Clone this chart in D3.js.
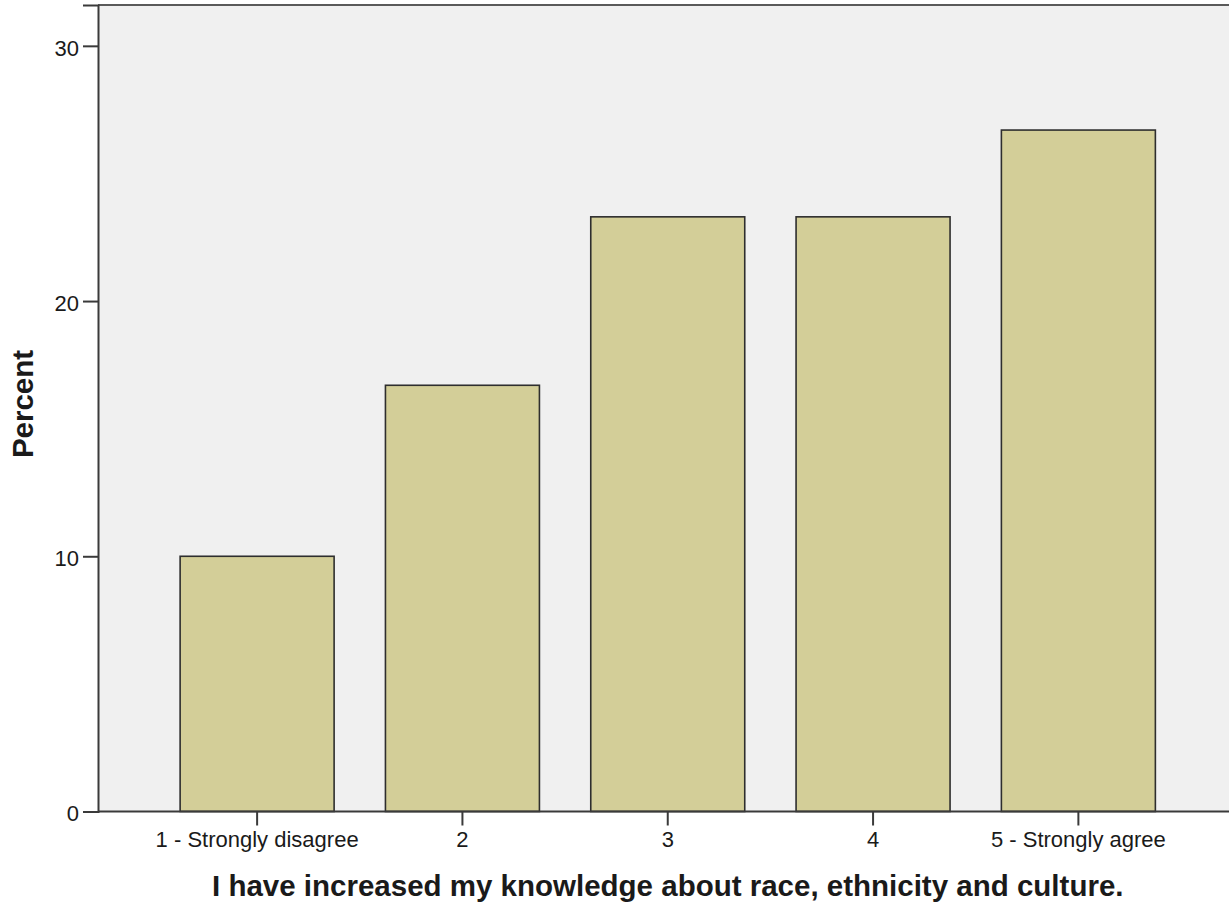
<!DOCTYPE html>
<html>
<head>
<meta charset="utf-8">
<script src="https://cdn.jsdelivr.net/npm/d3@7"></script>
<style>
  html, body { margin: 0; padding: 0; background: #ffffff; }
  svg { display: block; }
  text { font-family: "Liberation Sans", Arial, sans-serif; fill: #1a1a1a; }
</style>
</head>
<body>
<svg id="chart" width="1229" height="903"></svg>
<script>
// Response categories and the percentage answering each one
const categories = ["1 - Strongly disagree", "2", "3", "4", "5 - Strongly agree"];
const percents = [10.0, 16.7, 23.3, 23.3, 26.7];
const yTicks = [0, 10, 20, 30];
const xTitle = "I have increased my knowledge about race, ethnicity and culture.";
const yTitle = "Percent";

const svg = d3.select("#chart");

// Plot frame (extends slightly past the right edge of the canvas)
const plot = { left: 98, top: 5, right: 1237.5, bottom: 811.5 };

const x = d3.scaleBand()
  .domain(categories)
  .range([plot.left, plot.right])
  .paddingInner(0.25)
  .paddingOuter(0.4);

const y = d3.scaleLinear()
  .domain([0, 31.6])
  .range([plot.bottom, plot.top]);

// Plot background
svg.append("rect")
  .attr("x", plot.left)
  .attr("y", plot.top)
  .attr("width", plot.right - plot.left)
  .attr("height", plot.bottom - plot.top)
  .attr("fill", "#f0f0f0");

// Top frame line
svg.append("line")
  .attr("x1", plot.left).attr("x2", plot.right)
  .attr("y1", plot.top).attr("y2", plot.top)
  .attr("stroke", "#5a5a5a")
  .attr("stroke-width", 2);

// Bars
svg.append("g")
  .selectAll("rect")
  .data(categories.map((c, i) => ({ c, v: percents[i] })))
  .join("rect")
  .attr("x", d => x(d.c))
  .attr("y", d => y(d.v))
  .attr("width", x.bandwidth())
  .attr("height", d => y(0) - y(d.v))
  .attr("fill", "#d3ce98")
  .attr("stroke", "#2e2e2e")
  .attr("stroke-width", 1.6);

// Y axis
const yAxis = d3.axisLeft(y)
  .tickValues(yTicks)
  .tickFormat(d3.format("d"))
  .tickSize(15)
  .tickPadding(4);

const gy = svg.append("g")
  .attr("transform", `translate(${plot.left},0)`)
  .call(yAxis);
gy.select(".domain").attr("stroke", "#3a3a3a").attr("stroke-width", 2);
gy.selectAll(".tick line").attr("stroke", "#3a3a3a").attr("stroke-width", 2);
gy.selectAll(".tick text")
  .attr("font-size", 22)
  .attr("font-family", "Liberation Sans, Arial, sans-serif")
  .attr("fill", "#1a1a1a")
  .attr("dy", "0.42em");

// X axis
const xAxis = d3.axisBottom(x)
  .tickSize(14)
  .tickSizeOuter(0)
  .tickPadding(6);

const gx = svg.append("g")
  .attr("transform", `translate(0,${plot.bottom})`)
  .call(xAxis);
gx.select(".domain").attr("stroke", "#3a3a3a").attr("stroke-width", 2)
  .attr("d", `M${plot.left},0H${plot.right}`);
gx.selectAll(".tick line").attr("stroke", "#3a3a3a").attr("stroke-width", 2);
gx.selectAll(".tick text")
  .attr("font-size", 22)
  .attr("font-family", "Liberation Sans, Arial, sans-serif")
  .attr("fill", "#1a1a1a")
  .attr("dy", "0.71em");

// Axis titles
svg.append("text")
  .attr("x", (plot.left + plot.right) / 2)
  .attr("y", 896)
  .attr("text-anchor", "middle")
  .attr("font-size", 29.5)
  .attr("font-weight", "bold")
  .attr("fill", "#000")
  .text(xTitle);

svg.append("text")
  .attr("transform", "translate(33,404) rotate(-90)")
  .attr("text-anchor", "middle")
  .attr("font-size", 29.5)
  .attr("font-weight", "bold")
  .attr("fill", "#000")
  .text(yTitle);
</script>
</body>
</html>
